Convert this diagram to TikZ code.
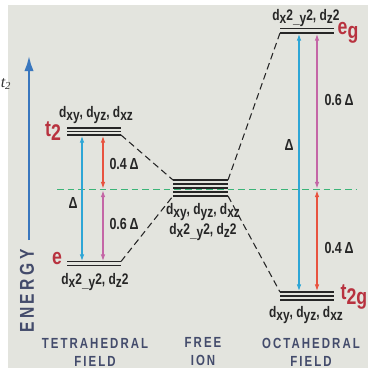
\documentclass[tikz,border=0pt]{standalone}
\usepackage{fontspec}
\setmainfont{Liberation Sans}[FakeStretch=0.78]
\newfontfamily\strayfont{Liberation Serif}
\usetikzlibrary{arrows.meta}
\definecolor{PanelGray}{HTML}{E3E4DE}
\definecolor{LevelRed}{HTML}{B8323F}
\definecolor{DeltaBlue}{HTML}{2EA6D6}
\definecolor{SplitRed}{HTML}{E8533F}
\definecolor{SplitPink}{HTML}{C466A6}
\definecolor{EnergyBlue}{HTML}{3A77BE}
\definecolor{BaryGreen}{RGB}{60,180,120}
\definecolor{FieldNavy}{HTML}{434B6B}
\newcommand{\lo}[1]{\raisebox{-0.35ex}{#1}}
\newcommand{\orbT}{d\lo{xy}, d\lo{yz}, d\lo{xz}}
\newcommand{\orbE}{d\lo{x}2\lo{\_y}2, d\lo{z}2}

\begin{document}
\begin{tikzpicture}[
  x=0.75pt,y=-0.75pt,
  level/.style={line width=1.1pt,draw=black!85},
  corr/.style={dash pattern=on 5pt off 3pt,line width=0.8pt,draw=black!85},
  bary/.style={draw=BaryGreen,dash pattern=on 5pt off 3pt,line width=1.1pt},
  gap/.style={{Latex[length=5pt,width=3.5pt]}-{Latex[length=5pt,width=3.5pt]},line width=0.8pt},
  orb/.style={font=\fontsize{11.5}{12}\selectfont\bfseries,text=black!85,inner sep=0pt},
  lvl/.style={font=\fontsize{17}{17}\selectfont\bfseries,text=LevelRed,inner sep=0pt},
  split/.style={font=\fontsize{12}{12}\selectfont\bfseries,text=black!85,inner sep=0pt},
  field/.style={font=\fontsize{11}{13.5}\selectfont\bfseries\addfontfeature{LetterSpace=14},
                text=FieldNavy,align=center,inner sep=0pt}
]
\useasboundingbox (0,0) rectangle (368,368);
\fill[white] (0,0) rectangle (368,368);
\fill[PanelGray] (8,5) rectangle (368,368);
\node[font=\strayfont\itshape\fontsize{12}{12}\selectfont,text=black!80,anchor=west,inner sep=0pt]
  (stray) at (0.5,84) {t\textsubscript{2}};

% energy axis
\coordinate (ebot) at (29,240);
\coordinate (etop) at (29,55);
\draw[EnergyBlue,line width=2.2pt,-{Latex[length=12pt,width=7pt]}] (ebot) -- (etop);
\node[rotate=90,font=\fontsize{15}{15}\selectfont\bfseries\addfontfeature{LetterSpace=18},
      text=FieldNavy,inner sep=0pt] (energy) at (27,291) {ENERGY};

% tetrahedral levels
\foreach \y in {128,131.5,135} \draw[level] (67,\y) -- (121,\y);
\foreach \y in {261.5,265.5} \draw[level] (67,\y) -- (121,\y);
% free ion
\foreach \y in {180,184,188,192,196} \draw[level] (173,\y) -- (228,\y);
% octahedral levels
\foreach \y in {28.5,33} \draw[level] (280,\y) -- (334,\y);
\foreach \y in {292,296,300} \draw[level] (280,\y) -- (334,\y);

% barycentre
\coordinate (baryL) at (57,189.5);
\coordinate (baryR) at (356,189.5);
\draw[bary] (baryL) -- (baryR);

\coordinate (tetT) at (121,135);
\coordinate (tetE) at (121,261.5);
\coordinate (freeTL) at (173,180);
\coordinate (freeBL) at (173,196);
\coordinate (freeTR) at (228,180);
\coordinate (freeBR) at (228,196);
\coordinate (octE) at (280,33);
\coordinate (octT) at (280,292);

\draw[corr] (tetT) -- (freeTL);
\draw[corr] (tetE) -- (freeBL);
\draw[corr] (freeTR) -- (octE);
\draw[corr] (freeBR) -- (octT);

% splitting arrows
\coordinate (tdA) at (82,136);
\coordinate (tdB) at (82,261);
\coordinate (trA) at (103,136);
\coordinate (trB) at (103,188.5);
\coordinate (tpA) at (103,190.5);
\coordinate (tpB) at (103,261);
\coordinate (odA) at (299,34);
\coordinate (odB) at (299,291);
\coordinate (opA) at (317,34);
\coordinate (opB) at (317,188.5);
\coordinate (orA) at (317,190.5);
\coordinate (orB) at (317,291);

\draw[gap,DeltaBlue] (tdA) -- (tdB);
\draw[gap,SplitRed] (trA) -- (trB);
\draw[gap,SplitPink] (tpA) -- (tpB);
\draw[gap,DeltaBlue] (odA) -- (odB);
\draw[gap,SplitPink] (opA) -- (opB);
\draw[gap,SplitRed] (orA) -- (orB);

% labels
\node[orb] (tetTorb) at (96,115) {\orbT};
\node[lvl] (tetTlbl) at (53,131) {t\lo{2}};
\node[lvl] (tetElbl) at (57,259) {e};
\node[orb] (tetEorb) at (95,282) {\orbE};
\node[orb] (freeorbT) at (203,212) {\orbT};
\node[orb] (freeorbE) at (203,232) {\orbE};
\node[orb] (octEorb) at (306,18) {\orbE};
\node[lvl] (octElbl) at (348,33) {e\lo{g}};
\node[lvl] (octTlbl) at (354,297) {t\lo{2g}};
\node[orb] (octTorb) at (306,315) {\orbT};

\node[split] (tetD) at (73,203) {Δ};
\node[split] (tet04) at (124,164) {0.4\,Δ};
\node[split] (tet06) at (124,224) {0.6\,Δ};
\node[split] (octD) at (289,145) {Δ};
\node[split] (oct06) at (339,100) {0.6\,Δ};
\node[split] (oct04) at (339,248) {0.4\,Δ};

\node[field] (tetfield) at (95,352) {TETRAHEDRAL\\FIELD};
\node[field] (freefield) at (203,352) {FREE\\ION};
\node[field] (octfield) at (311,352) {OCTAHEDRAL\\FIELD};
\end{tikzpicture}
\end{document}
